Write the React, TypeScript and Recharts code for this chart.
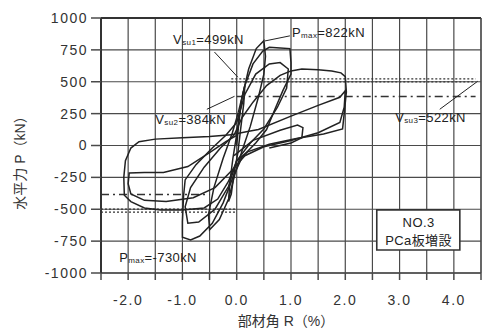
import React from 'react'
import {
  LineChart,
  Line,
  XAxis,
  YAxis,
  CartesianGrid,
  ReferenceLine,
  ReferenceDot,
  ReferenceArea,
} from 'recharts'

const FONT = "'Liberation Sans', 'Noto Sans CJK JP', sans-serif"
const INK = '#222'
const GRID = '#4a4a4a'

const xTicks = [-2.5, -2, -1.5, -1, -0.5, 0, 0.5, 1, 1.5, 2, 2.5, 3, 3.5, 4, 4.5]
const yTicks = [-1000, -750, -500, -250, 0, 250, 500, 750, 1000]

// [部材角 R (%), 水平力 P (kN)], one cycle at a time
const cycle025 = [
  [0, 0], [0.04, 180], [0.09, 360], [0.15, 470], [0.13, 330], [0.07, 120], [0.02, -60],
  [-0.05, -220], [-0.1, -380], [-0.15, -440], [-0.13, -300], [-0.07, -100], [-0.01, 60], [0.03, 180],
]
const cycle05 = [
  [0.03, 180], [0.1, 380], [0.22, 600], [0.36, 760], [0.5, 822], [0.53, 700], [0.5, 560],
  [0.4, 380], [0.25, 150], [0.1, -40], [-0.03, -220], [-0.15, -420], [-0.32, -580], [-0.5, -660],
  [-0.52, -540], [-0.42, -330], [-0.25, -100], [-0.08, 100], [0.03, 260],
]
const cycle10a = [
  [0.03, 260], [0.15, 470], [0.3, 640], [0.48, 740], [0.6, 770], [0.8, 765], [0.98, 760],
  [1.0, 650], [1.0, 560], [0.85, 430], [0.7, 280], [0.55, 125], [0.35, 20], [0.1, -90],
  [-0.07, -250], [-0.25, -450], [-0.45, -610], [-0.68, -710], [-0.85, -740], [-1.0, -720],
  [-1.0, -600], [-0.98, -400], [-0.95, -270], [-0.75, -150], [-0.45, -20], [-0.2, 80], [0, 180],
]
const cycle10b = [
  [0, 180], [0.15, 400], [0.35, 560], [0.6, 640], [0.8, 650], [0.95, 600], [0.92, 450],
  [0.75, 300], [0.5, 130], [0.25, 20], [0, -120], [-0.15, -320], [-0.4, -500], [-0.7, -600],
  [-0.9, -610], [-0.95, -480], [-0.85, -330], [-0.6, -170], [-0.3, -20], [-0.05, 80],
]
const cycle20a = [
  [-0.05, 80], [0.1, 220], [0.3, 340], [0.55, 470], [0.8, 550], [1.0, 585], [1.2, 600],
  [1.5, 595], [1.75, 585], [1.92, 570], [2.0, 540], [2.02, 420], [1.98, 250], [1.95, 130],
  [1.6, 90], [1.1, 55], [0.6, 10], [0.2, -50], [0, -120], [-0.15, -280], [-0.35, -420],
  [-0.6, -490], [-1.0, -505], [-1.4, -505], [-1.7, -490], [-1.95, -440], [-2.07, -390],
  [-2.08, -250], [-2.05, -120], [-1.95, -20], [-1.8, 30], [-1.5, 50], [-1.0, 60], [-0.5, 70],
  [-0.1, 85],
]
const cycle20b = [
  [-0.1, 85], [0.2, 110], [0.4, 125], [1.0, 230], [1.5, 315], [1.9, 378], [2.0, 430],
  [1.98, 300], [1.9, 180], [1.5, 100], [1.0, 40], [0.5, -10], [0.15, -80], [-0.1, -200],
  [-0.4, -330], [-0.8, -410], [-1.3, -440], [-1.7, -430], [-1.95, -380], [-2.0, -300],
  [-1.98, -215], [-1.7, -212], [-1.35, -212], [-0.9, -165], [-0.5, -55], [-0.2, 30], [0, 80],
]
const cycleEnd = [
  [-0.05, -80], [0.3, 40], [0.8, 120], [1.12, 160], [1.22, 140], [1.2, 60], [1.0, 20], [0.6, -20],
]

const cycles = [cycle025, cycle05, cycle10a, cycle10b, cycle20a, cycle20b, cycleEnd]

// design strengths (kN)
const vsu1 = 499
const vsu2 = 384
const vsu3 = 522

const toRows = (pts: number[][]) => pts.map(([r, p]) => ({ r, p }))

const Note = (props: any) => {
  const { viewBox, main, sub, rest } = props
  return (
    <text
      x={viewBox.x}
      y={viewBox.y}
      textAnchor="middle"
      dominantBaseline="central"
      fontSize={13}
      fill={INK}
      fontFamily={FONT}
      letterSpacing={0.4}
    >
      {main}
      {sub ? (
        <tspan fontSize={8} dy={3}>
          {sub}
        </tspan>
      ) : null}
      <tspan dy={sub ? -3 : 0}>{rest}</tspan>
    </text>
  )
}

const YLabel = (props: any) => {
  const { viewBox } = props
  const x = viewBox.x + 20
  const y = viewBox.y + viewBox.height / 2 + 14
  return (
    <text
      x={x}
      y={y}
      transform={`rotate(-90, ${x}, ${y})`}
      textAnchor="middle"
      dominantBaseline="central"
      fontSize={14}
      fill="#333"
      fontFamily={FONT}
    >
      水平力 P（kN）
    </text>
  )
}

const XLabel = (props: any) => {
  const { viewBox } = props
  return (
    <text
      x={viewBox.x + viewBox.width / 2 - 5}
      y={viewBox.y + 48}
      textAnchor="middle"
      dominantBaseline="central"
      fontSize={14}
      fill="#333"
      fontFamily={FONT}
    >
      部材角 R（%）
    </text>
  )
}

const tickStyle = { fontSize: 14, fill: '#333', fontFamily: FONT, letterSpacing: 1.5 }

export default function App() {
  return (
    <div style={{ position: 'absolute', left: 0, top: 0, background: '#fff' }}>
      <LineChart width={491} height={333} margin={{ top: 5, right: 0, bottom: 0, left: 0 }}>
        <CartesianGrid stroke={GRID} strokeWidth={1.2} />
        <XAxis
          dataKey="r"
          type="number"
          domain={[-2.5, 4.5]}
          ticks={xTicks}
          allowDataOverflow
          height={60}
          tickSize={7}
          tickMargin={15}
          tick={tickStyle}
          tickLine={{ stroke: GRID, strokeWidth: 1.5 }}
          axisLine={{ stroke: GRID, strokeWidth: 1.5 }}
          tickFormatter={(v: number) => (Number.isInteger(v) ? v.toFixed(1) : '')}
          label={{ content: <XLabel /> }}
        />
        <XAxis
          xAxisId="top"
          orientation="top"
          type="number"
          domain={[-2.5, 4.5]}
          ticks={xTicks}
          height={13}
          tickSize={13}
          tickLine={{ stroke: GRID, strokeWidth: 1.5 }}
          axisLine={{ stroke: '#333', strokeWidth: 2 }}
          tickFormatter={() => ''}
        />
        <YAxis
          type="number"
          domain={[-1000, 1000]}
          ticks={yTicks}
          allowDataOverflow
          width={101}
          tickSize={10}
          tickMargin={3}
          tick={tickStyle}
          tickLine={{ stroke: GRID, strokeWidth: 1.5 }}
          axisLine={{ stroke: '#333', strokeWidth: 2 }}
          label={{ content: <YLabel /> }}
        />
        <YAxis
          yAxisId="right"
          orientation="right"
          type="number"
          domain={[-1000, 1000]}
          ticks={yTicks}
          width={10}
          tickSize={10}
          tickLine={{ stroke: GRID, strokeWidth: 1.2 }}
          axisLine={{ stroke: GRID, strokeWidth: 1.2 }}
          tickFormatter={() => ''}
        />

        {/* Vsu lines */}
        <ReferenceLine segment={[{ x: -0.1, y: vsu3 }, { x: 4.4, y: vsu3 }]} stroke="#333" strokeWidth={1.3} strokeDasharray="2 2" />
        <ReferenceLine segment={[{ x: -0.1, y: vsu1 }, { x: 4.4, y: vsu1 }]} stroke="#333" strokeWidth={1.3} strokeDasharray="2 2" />
        <ReferenceLine segment={[{ x: 0, y: vsu2 }, { x: 4.4, y: vsu2 }]} stroke="#333" strokeWidth={1.4} strokeDasharray="8 4 2 4" />
        <ReferenceLine segment={[{ x: -2.5, y: -vsu1 }, { x: 0, y: -vsu1 }]} stroke="#333" strokeWidth={1.3} strokeDasharray="2 2" />
        <ReferenceLine segment={[{ x: -2.5, y: -vsu3 }, { x: 0, y: -vsu3 }]} stroke="#333" strokeWidth={1.3} strokeDasharray="2 2" />
        <ReferenceLine segment={[{ x: -2.5, y: -vsu2 }, { x: -0.5, y: -vsu2 }]} stroke="#333" strokeWidth={1.4} strokeDasharray="8 4 2 4" />

        {cycles.map((c, i) => (
          <Line
            key={i}
            data={toRows(c)}
            dataKey="p"
            type="linear"
            dot={false}
            stroke={INK}
            strokeWidth={1.5}
            isAnimationActive={false}
          />
        ))}

        {/* leader lines */}
        <ReferenceLine segment={[{ x: -0.41, y: 733 }, { x: 0.02, y: 536 }]} stroke={INK} strokeWidth={1} />
        <ReferenceLine segment={[{ x: 0.52, y: 820 }, { x: 0.98, y: 860 }]} stroke={INK} strokeWidth={1} />
        <ReferenceLine segment={[{ x: -0.55, y: 284 }, { x: -0.04, y: 386 }]} stroke={INK} strokeWidth={1} />
        <ReferenceLine segment={[{ x: 3.74, y: 284 }, { x: 4.44, y: 504 }]} stroke={INK} strokeWidth={1} />

        <ReferenceDot x={-0.52} y={835} r={0} fill="none" stroke="none" label={<Note main="V" sub="su1" rest="=499kN" />} />
        <ReferenceDot x={1.69} y={890} r={0} fill="none" stroke="none" label={<Note main="P" sub="max" rest="=822kN" />} />
        <ReferenceDot x={-0.85} y={205} r={0} fill="none" stroke="none" label={<Note main="V" sub="su2" rest="=384kN" />} />
        <ReferenceDot x={3.57} y={220} r={0} fill="none" stroke="none" label={<Note main="V" sub="su3" rest="=522kN" />} />
        <ReferenceDot x={-1.45} y={-875} r={0} fill="none" stroke="none" label={<Note main="P" sub="max" rest="=-730kN" />} />

        <ReferenceArea x1={2.58} x2={4.11} y1={-820} y2={-505} fill="#fff" fillOpacity={1} stroke="#333" strokeWidth={1.6} />
        <ReferenceDot x={3.35} y={-598} r={0} fill="none" stroke="none" label={<Note main="" rest="NO.3" />} />
        <ReferenceDot x={3.35} y={-740} r={0} fill="none" stroke="none" label={<Note main="" rest="PCa板増設" />} />
      </LineChart>
    </div>
  )
}
